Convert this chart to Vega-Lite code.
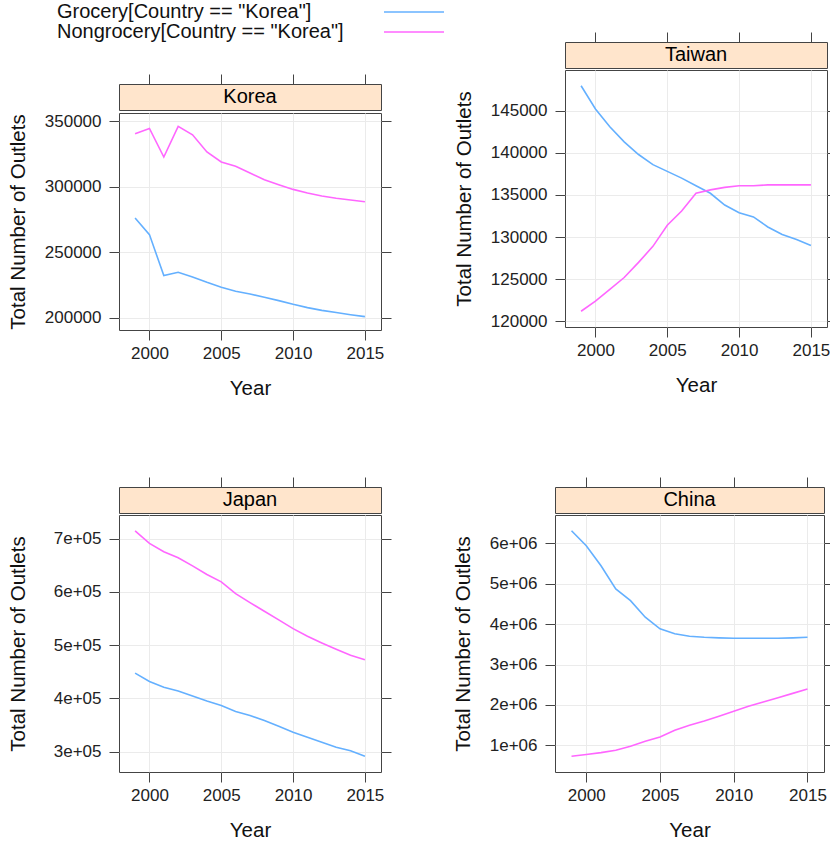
{
  "$schema": "https://vega.github.io/schema/vega-lite/v6.json",
  "padding": {"left": 7, "top": 2, "right": 0, "bottom": 0},
  "data": {"values": [
    {"Country":"Korea","Type":"Grocery","Year":1999,"Outlets":276300},
    {"Country":"Korea","Type":"Grocery","Year":2000,"Outlets":263600},
    {"Country":"Korea","Type":"Grocery","Year":2001,"Outlets":232300},
    {"Country":"Korea","Type":"Grocery","Year":2002,"Outlets":234800},
    {"Country":"Korea","Type":"Grocery","Year":2003,"Outlets":231300},
    {"Country":"Korea","Type":"Grocery","Year":2004,"Outlets":227200},
    {"Country":"Korea","Type":"Grocery","Year":2005,"Outlets":223400},
    {"Country":"Korea","Type":"Grocery","Year":2006,"Outlets":220400},
    {"Country":"Korea","Type":"Grocery","Year":2007,"Outlets":218300},
    {"Country":"Korea","Type":"Grocery","Year":2008,"Outlets":215800},
    {"Country":"Korea","Type":"Grocery","Year":2009,"Outlets":213200},
    {"Country":"Korea","Type":"Grocery","Year":2010,"Outlets":210400},
    {"Country":"Korea","Type":"Grocery","Year":2011,"Outlets":207900},
    {"Country":"Korea","Type":"Grocery","Year":2012,"Outlets":205800},
    {"Country":"Korea","Type":"Grocery","Year":2013,"Outlets":204100},
    {"Country":"Korea","Type":"Grocery","Year":2014,"Outlets":202500},
    {"Country":"Korea","Type":"Grocery","Year":2015,"Outlets":201000},
    {"Country":"Korea","Type":"Nongrocery","Year":1999,"Outlets":340600},
    {"Country":"Korea","Type":"Nongrocery","Year":2000,"Outlets":344600},
    {"Country":"Korea","Type":"Nongrocery","Year":2001,"Outlets":322800},
    {"Country":"Korea","Type":"Nongrocery","Year":2002,"Outlets":346200},
    {"Country":"Korea","Type":"Nongrocery","Year":2003,"Outlets":339800},
    {"Country":"Korea","Type":"Nongrocery","Year":2004,"Outlets":326700},
    {"Country":"Korea","Type":"Nongrocery","Year":2005,"Outlets":319000},
    {"Country":"Korea","Type":"Nongrocery","Year":2006,"Outlets":315700},
    {"Country":"Korea","Type":"Nongrocery","Year":2007,"Outlets":310600},
    {"Country":"Korea","Type":"Nongrocery","Year":2008,"Outlets":305500},
    {"Country":"Korea","Type":"Nongrocery","Year":2009,"Outlets":301700},
    {"Country":"Korea","Type":"Nongrocery","Year":2010,"Outlets":298100},
    {"Country":"Korea","Type":"Nongrocery","Year":2011,"Outlets":295300},
    {"Country":"Korea","Type":"Nongrocery","Year":2012,"Outlets":293000},
    {"Country":"Korea","Type":"Nongrocery","Year":2013,"Outlets":291300},
    {"Country":"Korea","Type":"Nongrocery","Year":2014,"Outlets":290000},
    {"Country":"Korea","Type":"Nongrocery","Year":2015,"Outlets":288700},
    {"Country":"Taiwan","Type":"Grocery","Year":1999,"Outlets":147960},
    {"Country":"Taiwan","Type":"Grocery","Year":2000,"Outlets":145200},
    {"Country":"Taiwan","Type":"Grocery","Year":2001,"Outlets":143100},
    {"Country":"Taiwan","Type":"Grocery","Year":2002,"Outlets":141300},
    {"Country":"Taiwan","Type":"Grocery","Year":2003,"Outlets":139800},
    {"Country":"Taiwan","Type":"Grocery","Year":2004,"Outlets":138600},
    {"Country":"Taiwan","Type":"Grocery","Year":2005,"Outlets":137800},
    {"Country":"Taiwan","Type":"Grocery","Year":2006,"Outlets":137000},
    {"Country":"Taiwan","Type":"Grocery","Year":2007,"Outlets":136100},
    {"Country":"Taiwan","Type":"Grocery","Year":2008,"Outlets":135200},
    {"Country":"Taiwan","Type":"Grocery","Year":2009,"Outlets":133800},
    {"Country":"Taiwan","Type":"Grocery","Year":2010,"Outlets":132900},
    {"Country":"Taiwan","Type":"Grocery","Year":2011,"Outlets":132400},
    {"Country":"Taiwan","Type":"Grocery","Year":2012,"Outlets":131200},
    {"Country":"Taiwan","Type":"Grocery","Year":2013,"Outlets":130300},
    {"Country":"Taiwan","Type":"Grocery","Year":2014,"Outlets":129700},
    {"Country":"Taiwan","Type":"Grocery","Year":2015,"Outlets":129000},
    {"Country":"Taiwan","Type":"Nongrocery","Year":1999,"Outlets":121200},
    {"Country":"Taiwan","Type":"Nongrocery","Year":2000,"Outlets":122400},
    {"Country":"Taiwan","Type":"Nongrocery","Year":2001,"Outlets":123800},
    {"Country":"Taiwan","Type":"Nongrocery","Year":2002,"Outlets":125200},
    {"Country":"Taiwan","Type":"Nongrocery","Year":2003,"Outlets":127000},
    {"Country":"Taiwan","Type":"Nongrocery","Year":2004,"Outlets":128900},
    {"Country":"Taiwan","Type":"Nongrocery","Year":2005,"Outlets":131400},
    {"Country":"Taiwan","Type":"Nongrocery","Year":2006,"Outlets":133100},
    {"Country":"Taiwan","Type":"Nongrocery","Year":2007,"Outlets":135200},
    {"Country":"Taiwan","Type":"Nongrocery","Year":2008,"Outlets":135600},
    {"Country":"Taiwan","Type":"Nongrocery","Year":2009,"Outlets":135900},
    {"Country":"Taiwan","Type":"Nongrocery","Year":2010,"Outlets":136100},
    {"Country":"Taiwan","Type":"Nongrocery","Year":2011,"Outlets":136100},
    {"Country":"Taiwan","Type":"Nongrocery","Year":2012,"Outlets":136200},
    {"Country":"Taiwan","Type":"Nongrocery","Year":2013,"Outlets":136200},
    {"Country":"Taiwan","Type":"Nongrocery","Year":2014,"Outlets":136200},
    {"Country":"Taiwan","Type":"Nongrocery","Year":2015,"Outlets":136200},
    {"Country":"Japan","Type":"Grocery","Year":1999,"Outlets":447500},
    {"Country":"Japan","Type":"Grocery","Year":2000,"Outlets":431800},
    {"Country":"Japan","Type":"Grocery","Year":2001,"Outlets":421000},
    {"Country":"Japan","Type":"Grocery","Year":2002,"Outlets":413600},
    {"Country":"Japan","Type":"Grocery","Year":2003,"Outlets":404200},
    {"Country":"Japan","Type":"Grocery","Year":2004,"Outlets":394800},
    {"Country":"Japan","Type":"Grocery","Year":2005,"Outlets":386600},
    {"Country":"Japan","Type":"Grocery","Year":2006,"Outlets":375300},
    {"Country":"Japan","Type":"Grocery","Year":2007,"Outlets":367800},
    {"Country":"Japan","Type":"Grocery","Year":2008,"Outlets":358400},
    {"Country":"Japan","Type":"Grocery","Year":2009,"Outlets":347700},
    {"Country":"Japan","Type":"Grocery","Year":2010,"Outlets":336400},
    {"Country":"Japan","Type":"Grocery","Year":2011,"Outlets":327000},
    {"Country":"Japan","Type":"Grocery","Year":2012,"Outlets":317600},
    {"Country":"Japan","Type":"Grocery","Year":2013,"Outlets":308200},
    {"Country":"Japan","Type":"Grocery","Year":2014,"Outlets":301300},
    {"Country":"Japan","Type":"Grocery","Year":2015,"Outlets":291200},
    {"Country":"Japan","Type":"Nongrocery","Year":1999,"Outlets":715000},
    {"Country":"Japan","Type":"Nongrocery","Year":2000,"Outlets":691200},
    {"Country":"Japan","Type":"Nongrocery","Year":2001,"Outlets":675500},
    {"Country":"Japan","Type":"Nongrocery","Year":2002,"Outlets":664200},
    {"Country":"Japan","Type":"Nongrocery","Year":2003,"Outlets":649100},
    {"Country":"Japan","Type":"Nongrocery","Year":2004,"Outlets":632800},
    {"Country":"Japan","Type":"Nongrocery","Year":2005,"Outlets":619000},
    {"Country":"Japan","Type":"Nongrocery","Year":2006,"Outlets":597000},
    {"Country":"Japan","Type":"Nongrocery","Year":2007,"Outlets":580000},
    {"Country":"Japan","Type":"Nongrocery","Year":2008,"Outlets":563700},
    {"Country":"Japan","Type":"Nongrocery","Year":2009,"Outlets":547400},
    {"Country":"Japan","Type":"Nongrocery","Year":2010,"Outlets":531000},
    {"Country":"Japan","Type":"Nongrocery","Year":2011,"Outlets":516600},
    {"Country":"Japan","Type":"Nongrocery","Year":2012,"Outlets":504000},
    {"Country":"Japan","Type":"Nongrocery","Year":2013,"Outlets":492100},
    {"Country":"Japan","Type":"Nongrocery","Year":2014,"Outlets":480800},
    {"Country":"Japan","Type":"Nongrocery","Year":2015,"Outlets":472700},
    {"Country":"China","Type":"Grocery","Year":1999,"Outlets":6313000},
    {"Country":"China","Type":"Grocery","Year":2000,"Outlets":5942000},
    {"Country":"China","Type":"Grocery","Year":2001,"Outlets":5448000},
    {"Country":"China","Type":"Grocery","Year":2002,"Outlets":4872000},
    {"Country":"China","Type":"Grocery","Year":2003,"Outlets":4583000},
    {"Country":"China","Type":"Grocery","Year":2004,"Outlets":4171000},
    {"Country":"China","Type":"Grocery","Year":2005,"Outlets":3883000},
    {"Country":"China","Type":"Grocery","Year":2006,"Outlets":3760000},
    {"Country":"China","Type":"Grocery","Year":2007,"Outlets":3702000},
    {"Country":"China","Type":"Grocery","Year":2008,"Outlets":3677000},
    {"Country":"China","Type":"Grocery","Year":2009,"Outlets":3661000},
    {"Country":"China","Type":"Grocery","Year":2010,"Outlets":3652000},
    {"Country":"China","Type":"Grocery","Year":2011,"Outlets":3652000},
    {"Country":"China","Type":"Grocery","Year":2012,"Outlets":3652000},
    {"Country":"China","Type":"Grocery","Year":2013,"Outlets":3652000},
    {"Country":"China","Type":"Grocery","Year":2014,"Outlets":3661000},
    {"Country":"China","Type":"Grocery","Year":2015,"Outlets":3677000},
    {"Country":"China","Type":"Nongrocery","Year":1999,"Outlets":728000},
    {"Country":"China","Type":"Nongrocery","Year":2000,"Outlets":769000},
    {"Country":"China","Type":"Nongrocery","Year":2001,"Outlets":818000},
    {"Country":"China","Type":"Nongrocery","Year":2002,"Outlets":876000},
    {"Country":"China","Type":"Nongrocery","Year":2003,"Outlets":975000},
    {"Country":"China","Type":"Nongrocery","Year":2004,"Outlets":1099000},
    {"Country":"China","Type":"Nongrocery","Year":2005,"Outlets":1206000},
    {"Country":"China","Type":"Nongrocery","Year":2006,"Outlets":1371000},
    {"Country":"China","Type":"Nongrocery","Year":2007,"Outlets":1494000},
    {"Country":"China","Type":"Nongrocery","Year":2008,"Outlets":1601000},
    {"Country":"China","Type":"Nongrocery","Year":2009,"Outlets":1717000},
    {"Country":"China","Type":"Nongrocery","Year":2010,"Outlets":1840000},
    {"Country":"China","Type":"Nongrocery","Year":2011,"Outlets":1964000},
    {"Country":"China","Type":"Nongrocery","Year":2012,"Outlets":2071000},
    {"Country":"China","Type":"Nongrocery","Year":2013,"Outlets":2178000},
    {"Country":"China","Type":"Nongrocery","Year":2014,"Outlets":2285000},
    {"Country":"China","Type":"Nongrocery","Year":2015,"Outlets":2392000}
  ]},
  "config": {
    "font": "Liberation Sans",
    "view": {"stroke": "#444", "strokeWidth": 1},
    "axis": {"labelFont": "Liberation Sans", "labelFontSize": 17, "labelColor": "#222", "titleFont": "Liberation Sans", "titleFontSize": 20.5, "titleFontWeight": "normal", "titleColor": "#111", "tickColor": "#444", "tickSize": 10, "tickWidth": 1, "domain": false, "gridColor": "#ebebeb", "gridWidth": 1, "labelFlush": false, "labelOverlap": false},
    "axisX": {"labelPadding": 5, "titlePadding": 17},
    "axisY": {"labelPadding": 8, "titlePadding": 16},
    "line": {"strokeWidth": 1.6}
  },
  "resolve": {"scale": {"color": "independent"}, "legend": {"color": "independent"}},
  "spacing": 77,
  "vconcat": [
    {
      "spacing": 5,
      "resolve": {"scale": {"color": "independent"}, "legend": {"color": "independent"}},
      "hconcat": [
        {
          "spacing": 0,
          "vconcat": [
            {
              "width": 262, "height": 31,
              "view": {"stroke": null},
              "data": {"values": []},
              "mark": {"type": "text"},
              "encoding": {}
            },
            {
              "width": 262, "height": 26,
              "view": {"fill": "#ffe5cc"},
              "transform": [{"filter": "datum.Country == 'Korea'"}],
              "mark": {"type": "text", "fontSize": 20, "font": "Liberation Sans", "color": "#000"},
              "encoding": {
                "x": {"aggregate": "mean", "field": "Year", "type": "quantitative", "scale": {"domain": [1997.88, 2016.12], "nice": false, "zero": false}, "axis": {"orient": "top", "labels": false, "grid": false, "values": [2000, 2005, 2010, 2015], "title": null}},
                "text": {"field": "Country", "type": "nominal"}
              }
            },
            {
              "width": 262, "height": 217,
              "transform": [{"filter": "datum.Country == 'Korea'"}],
              "encoding": {
                "x": {"field": "Year", "type": "quantitative", "scale": {"domain": [1997.88, 2016.12], "nice": false, "zero": false}, "axis": {"values": [2000, 2005, 2010, 2015], "format": "d", "title": "Year", "grid": true}},
                "color": {"field": "Type", "type": "nominal", "scale": {"domain": ["Grocery", "Nongrocery"], "range": ["#64b0ff", "#ff66ff"]},
                  "legend": {"orient": "none", "legendX": -62, "legendY": -40, "title": null, "direction": "vertical", "symbolType": "M-3.273,0H3.273", "symbolSize": 336, "symbolStrokeWidth": 1.6, "rowPadding": 0, "padding": 0, "labelFont": "Liberation Sans", "labelFontSize": 20, "labelColor": "#111", "labelLimit": 400, "symbolOffset": 347, "labelOffset": -367, "labelExpr": "datum.label + '[Country == \"Korea\"]'"}}
              },
              "layer": [
                {
                  "transform": [{"filter": "datum.Type == 'Grocery'"}],
                  "mark": {"type": "line"},
                  "encoding": {"y": {"field": "Outlets", "type": "quantitative", "scale": {"domain": [190800, 356400], "nice": false, "zero": false}, "axis": {"orient": "left", "values": [200000, 250000, 300000, 350000], "format": "d", "title": "Total Number of Outlets", "grid": true}}}
                },
                {
                  "transform": [{"filter": "datum.Type == 'Nongrocery'"}],
                  "mark": {"type": "line"},
                  "encoding": {"y": {"field": "Outlets", "type": "quantitative", "scale": {"domain": [190800, 356400], "nice": false, "zero": false}, "axis": {"orient": "right", "values": [200000, 250000, 300000, 350000], "labels": false, "grid": false, "title": null}}}
                }
              ],
              "resolve": {"axis": {"y": "independent"}}
            }
          ]
        },
        {
          "spacing": 0,
          "vconcat": [
            {
              "width": 262, "height": 26,
              "view": {"fill": "#ffe5cc"},
              "transform": [{"filter": "datum.Country == 'Taiwan'"}],
              "mark": {"type": "text", "fontSize": 20, "font": "Liberation Sans", "color": "#000"},
              "encoding": {
                "x": {"aggregate": "mean", "field": "Year", "type": "quantitative", "scale": {"domain": [1997.88, 2016.12], "nice": false, "zero": false}, "axis": {"orient": "top", "labels": false, "grid": false, "values": [2000, 2005, 2010, 2015], "title": null}},
                "text": {"field": "Country", "type": "nominal"}
              }
            },
            {
              "width": 262, "height": 257,
              "transform": [{"filter": "datum.Country == 'Taiwan'"}],
              "encoding": {
                "x": {"field": "Year", "type": "quantitative", "scale": {"domain": [1997.88, 2016.12], "nice": false, "zero": false}, "axis": {"values": [2000, 2005, 2010, 2015], "format": "d", "title": "Year", "grid": true}},
                "color": {"field": "Type", "type": "nominal", "scale": {"domain": ["Grocery", "Nongrocery"], "range": ["#64b0ff", "#ff66ff"]}, "legend": null}
              },
              "layer": [
                {
                  "transform": [{"filter": "datum.Type == 'Grocery'"}],
                  "mark": {"type": "line"},
                  "encoding": {"y": {"field": "Outlets", "type": "quantitative", "scale": {"domain": [119330, 149830], "nice": false, "zero": false}, "axis": {"orient": "left", "values": [120000, 125000, 130000, 135000, 140000, 145000], "format": "d", "title": "Total Number of Outlets", "grid": true}}}
                },
                {
                  "transform": [{"filter": "datum.Type == 'Nongrocery'"}],
                  "mark": {"type": "line"},
                  "encoding": {"y": {"field": "Outlets", "type": "quantitative", "scale": {"domain": [119330, 149830], "nice": false, "zero": false}, "axis": {"orient": "right", "values": [120000, 125000, 130000, 135000, 140000, 145000], "labels": false, "grid": false, "title": null}}}
                }
              ],
              "resolve": {"axis": {"y": "independent"}}
            }
          ]
        }
      ]
    },
    {
      "spacing": 60,
      "hconcat": [
        {
          "spacing": 0,
          "vconcat": [
            {
              "width": 262, "height": 26,
              "view": {"fill": "#ffe5cc"},
              "transform": [{"filter": "datum.Country == 'Japan'"}],
              "mark": {"type": "text", "fontSize": 20, "font": "Liberation Sans", "color": "#000"},
              "encoding": {
                "x": {"aggregate": "mean", "field": "Year", "type": "quantitative", "scale": {"domain": [1997.88, 2016.12], "nice": false, "zero": false}, "axis": {"orient": "top", "labels": false, "grid": false, "values": [2000, 2005, 2010, 2015], "title": null}},
                "text": {"field": "Country", "type": "nominal"}
              }
            },
            {
              "width": 262, "height": 257,
              "transform": [{"filter": "datum.Country == 'Japan'"}],
              "encoding": {
                "x": {"field": "Year", "type": "quantitative", "scale": {"domain": [1997.88, 2016.12], "nice": false, "zero": false}, "axis": {"values": [2000, 2005, 2010, 2015], "format": "d", "title": "Year", "grid": true}},
                "color": {"field": "Type", "type": "nominal", "scale": {"domain": ["Grocery", "Nongrocery"], "range": ["#64b0ff", "#ff66ff"]}, "legend": null}
              },
              "layer": [
                {
                  "transform": [{"filter": "datum.Type == 'Grocery'"}],
                  "mark": {"type": "line"},
                  "encoding": {"y": {"field": "Outlets", "type": "quantitative", "scale": {"domain": [261500, 744700], "nice": false, "zero": false}, "axis": {"orient": "left", "values": [300000, 400000, 500000, 600000, 700000], "labelExpr": "(datum.value / 100000) + 'e+05'", "title": "Total Number of Outlets", "titlePadding": 25, "grid": true}}}
                },
                {
                  "transform": [{"filter": "datum.Type == 'Nongrocery'"}],
                  "mark": {"type": "line"},
                  "encoding": {"y": {"field": "Outlets", "type": "quantitative", "scale": {"domain": [261500, 744700], "nice": false, "zero": false}, "axis": {"orient": "right", "values": [300000, 400000, 500000, 600000, 700000], "labels": false, "grid": false, "title": null}}}
                }
              ],
              "resolve": {"axis": {"y": "independent"}}
            }
          ]
        },
        {
          "spacing": 0,
          "vconcat": [
            {
              "width": 269, "height": 26,
              "view": {"fill": "#ffe5cc"},
              "transform": [{"filter": "datum.Country == 'China'"}],
              "mark": {"type": "text", "fontSize": 20, "font": "Liberation Sans", "color": "#000"},
              "encoding": {
                "x": {"aggregate": "mean", "field": "Year", "type": "quantitative", "scale": {"domain": [1997.88, 2016.12], "nice": false, "zero": false}, "axis": {"orient": "top", "labels": false, "grid": false, "values": [2000, 2005, 2010, 2015], "title": null}},
                "text": {"field": "Country", "type": "nominal"}
              }
            },
            {
              "width": 269, "height": 257,
              "transform": [{"filter": "datum.Country == 'China'"}],
              "encoding": {
                "x": {"field": "Year", "type": "quantitative", "scale": {"domain": [1997.88, 2016.12], "nice": false, "zero": false}, "axis": {"values": [2000, 2005, 2010, 2015], "format": "d", "title": "Year", "grid": true}},
                "color": {"field": "Type", "type": "nominal", "scale": {"domain": ["Grocery", "Nongrocery"], "range": ["#64b0ff", "#ff66ff"]}, "legend": null}
              },
              "layer": [
                {
                  "transform": [{"filter": "datum.Type == 'Grocery'"}],
                  "mark": {"type": "line"},
                  "encoding": {"y": {"field": "Outlets", "type": "quantitative", "scale": {"domain": [337000, 6704000], "nice": false, "zero": false}, "axis": {"orient": "left", "values": [1000000, 2000000, 3000000, 4000000, 5000000, 6000000], "labelExpr": "(datum.value / 1000000) + 'e+06'", "title": "Total Number of Outlets", "grid": true}}}
                },
                {
                  "transform": [{"filter": "datum.Type == 'Nongrocery'"}],
                  "mark": {"type": "line"},
                  "encoding": {"y": {"field": "Outlets", "type": "quantitative", "scale": {"domain": [337000, 6704000], "nice": false, "zero": false}, "axis": {"orient": "right", "values": [1000000, 2000000, 3000000, 4000000, 5000000, 6000000], "labels": false, "grid": false, "title": null}}}
                }
              ],
              "resolve": {"axis": {"y": "independent"}}
            }
          ]
        }
      ]
    }
  ]
}
